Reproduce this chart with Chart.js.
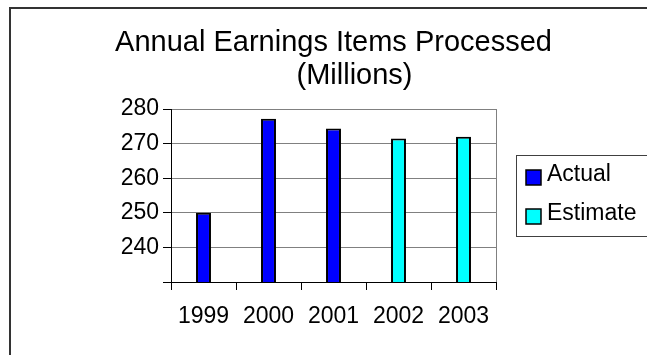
<!DOCTYPE html>
<html>
<head>
<meta charset="utf-8">
<script src="https://cdn.jsdelivr.net/npm/chart.js@4/dist/chart.umd.min.js"></script>
<style>
  html, body { margin: 0; padding: 0; background: #fff; }
  #wrap { width: 647px; height: 355px; }
</style>
</head>
<body>
<div id="wrap"><canvas id="earnings" width="647" height="355"></canvas></div>
<script>
const years = ['1999', '2000', '2001', '2002', '2003'];
const actual = [250, 277.2, 274.4, null, null];
const estimate = [null, null, null, 271.5, 272];
const yTicks = [230, 240, 250, 260, 270, 280];
const titleLines = ['Annual Earnings Items Processed', '(Millions)'];

const FONT = "'Liberation Sans', Arial, sans-serif";
Chart.defaults.font.family = FONT;
Chart.defaults.color = '#000';

// outer frame, two-line title, plot border and the boxed legend
const decorations = {
  id: 'decorations',
  afterDraw(chart) {
    const ctx = chart.ctx;
    const area = chart.chartArea;
    const mid = (area.left + area.right) / 2;
    ctx.save();

    ctx.strokeStyle = '#333';
    ctx.lineWidth = 2;
    ctx.strokeRect(10, 8, 700, 400);

    ctx.strokeStyle = '#808080';
    ctx.lineWidth = 1;
    ctx.beginPath();
    ctx.moveTo(Math.round(area.right) + 0.5, area.top);
    ctx.lineTo(Math.round(area.right) + 0.5, area.bottom);
    ctx.stroke();

    ctx.fillStyle = '#000';
    ctx.font = '29px ' + FONT;
    ctx.textAlign = 'center';
    ctx.textBaseline = 'alphabetic';
    ctx.fillText(titleLines[0], mid, 51);
    ctx.fillText(titleLines[1], mid + 21, 84);

    // legend
    const lx = area.right + 20;
    ctx.strokeStyle = '#404040';
    ctx.strokeRect(lx + 0.5, 155.5, 200, 81);
    ctx.font = '23px ' + FONT;
    ctx.textAlign = 'left';
    ctx.textBaseline = 'middle';
    chart.data.datasets.forEach((ds, i) => {
      const y = 170 + i * 39;
      ctx.fillStyle = ds.backgroundColor;
      ctx.fillRect(lx + 10, y, 15, 15);
      ctx.strokeStyle = '#000';
      ctx.lineWidth = 1.5;
      ctx.strokeRect(lx + 10, y, 15, 15);
      ctx.fillStyle = '#000';
      ctx.fillText(ds.label, lx + 31, y + 5);
    });
    ctx.restore();
  }
};

new Chart(document.getElementById('earnings'), {
  type: 'bar',
  data: {
    labels: years,
    datasets: [
      { label: 'Actual', data: actual, backgroundColor: '#0000ff' },
      { label: 'Estimate', data: estimate, backgroundColor: '#00ffff' }
    ]
  },
  options: {
    responsive: false,
    animation: false,
    devicePixelRatio: 1,
    layout: { padding: { top: 109, right: 151, left: 0, bottom: 0 } },
    datasets: {
      bar: {
        grouped: false,
        categoryPercentage: 1,
        barPercentage: 0.23,
        borderColor: '#000',
        borderWidth: 2,
        borderSkipped: false
      }
    },
    plugins: {
      legend: { display: false },
      title: { display: false },
      tooltip: { enabled: false }
    },
    scales: {
      x: {
        afterFit: s => { s.height = 73; },
        border: { color: '#000', width: 1 },
        grid: {
          offset: true,
          drawOnChartArea: false,
          drawTicks: true,
          tickLength: 8,
          tickColor: '#000'
        },
        ticks: { font: { size: 23 }, padding: 13, color: '#000' }
      },
      y: {
        min: 230,
        max: 280,
        afterFit: s => { s.width = 171; },
        afterBuildTicks: s => { s.ticks = yTicks.map(v => ({ value: v })); },
        border: { color: '#000', width: 1 },
        grid: {
          color: c => (c.tick && c.tick.value === 230) ? 'rgba(0,0,0,0)' : '#808080',
          tickColor: '#000',
          tickLength: 8
        },
        ticks: {
          font: { size: 23 },
          padding: 4,
          color: '#000',
          callback: v => v === 230 ? '' : String(v)
        }
      }
    }
  },
  plugins: [decorations]
});
</script>
</body>
</html>
